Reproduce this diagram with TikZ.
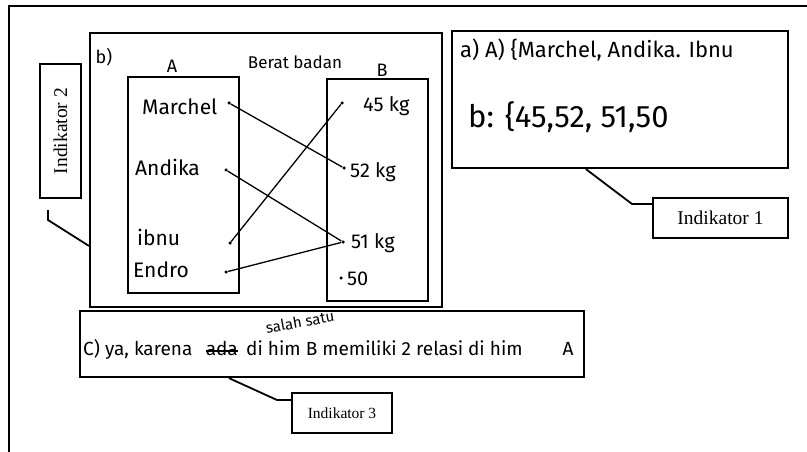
\documentclass[tikz,border=0pt]{standalone}
\usepackage{fontspec}
\setmainfont{Liberation Serif}
\newfontfamily\hand{Fira Sans}
\usetikzlibrary{positioning,calc}

\begin{document}
\begin{tikzpicture}[
    x=1pt, y=-1pt,
    answer/.style  = {draw, line width=2.2pt, inner sep=0pt},
    tagbox/.style  = {draw, line width=1.8pt, inner sep=0pt, font=\fontsize{19.5}{21}\selectfont},
    lead/.style    = {draw, line width=1.8pt},
    hw/.style      = {font=\hand\fontsize{#1}{#1}\selectfont, inner sep=0pt},
    setbox/.style  = {draw, line width=1.3pt, inner sep=0pt},
    dot/.style     = {circle, fill, inner sep=0pt, minimum size=3.5pt},
    every edge/.style = {draw, line width=1.3pt}
]
\useasboundingbox (0,0) rectangle (807,452);

% =========================================================
% OUTER FRAME (cut off at right and bottom)
% =========================================================
\draw[line width=2pt] (9,452) -- (9,6) -- (807,6);

% =========================================================
% ANSWER BOXES
% =========================================================
\node[answer, minimum width=352, minimum height=274] (boxB) at (266,170) {};
\node[answer, minimum width=336, minimum height=137] (boxA) at (620,99.5) {};
\node[answer, minimum width=504, minimum height=66]  (boxC) at (332,344) {};

% =========================================================
% INDIKATOR TAGS
% =========================================================
\node[tagbox, minimum width=135, minimum height=40] (ind1) at (720.5,218) {Indikator 1};
\node[tagbox, rotate=90, minimum width=134, minimum height=41] (ind2) at (60.5,131) {Indikator 2};
\node[tagbox, minimum width=100, minimum height=40,
      font=\fontsize{15.5}{17}\selectfont] (ind3) at (342,413) {Indikator 3};

% leaders
\coordinate (k1a) at ($(boxA.south west)+(135,0)$);
\coordinate (k1b) at (632,204);
\draw[lead] (k1a) -- (k1b) -- (k1b -| ind1.west);

\coordinate (k2a) at (48,210);
\coordinate (k2b) at (48,220);
\draw[lead] (k2a) -- (k2b) -- ($(boxB.north west)+(0,214)$);

\coordinate (k3a) at ($(boxC.south west)+(150,0)$);
\coordinate (k3b) at (277,400);
\draw[lead] (k3a) -- (k3b) -- (k3b -| ind3.west);

% =========================================================
% PART b) : ARROW DIAGRAM
% =========================================================
\node[hw=18] (lblb)  at (104,57) {b)};
\node[hw=18] (lblA)  at (172,66) {A};
\node[hw=17] (title) at (295,62) {Berat badan};
\node[hw=18] (lblB)  at (382,70) {B};

\node[setbox, minimum width=111, minimum height=216] (setA) at (183.5,185) {};
\node[setbox, minimum width=101, minimum height=222] (setB) at (377.5,190) {};

\node[hw=21, anchor=west] (marchel) at (142,107) {Marchel};
\node[hw=21, anchor=west] (andika)  at (135,167) {Andika};
\node[hw=21, anchor=west] (ibnu)    at (137,237) {ibnu};
\node[hw=21, anchor=west] (endro)   at (133,270) {Endro};

\node[hw=20, anchor=west] (v45) at (363,106) {45 kg};
\node[hw=20, anchor=west] (v52) at (350,172) {52 kg};
\node[hw=20, anchor=west] (v51) at (351,243) {51 kg};
\node[hw=20, anchor=west] (v50) at (347,279) {50};

\node[dot] (dMarchel) at (229,103) {};
\node[dot] (dAndika)  at (226,170) {};
\node[dot] (dIbnu)    at (230,243) {};
\node[dot] (dEndro)   at (226,272) {};
\node[dot] (d45)      at (342,103) {};
\node[dot] (d52)      at (344,168) {};
\node[dot] (d51)      at (343,242) {};
\node[dot] (d50)      at (341,278) {};

\path
  (dMarchel) edge (d52)
  (dAndika)  edge (d51)
  (dIbnu)    edge (d45)
  (dEndro)   edge (d51);

% =========================================================
% PART a) : SETS
% =========================================================
\node[hw=22, anchor=west] (setsA) at (460,50)  {a) A) \{Marchel, Andika. Ibnu};
\node[hw=31, anchor=west] (setsB) at (468,117) {b: \{45,52, 51,50};

% =========================================================
% PART c) : ANSWER
% =========================================================
\node[hw=19, anchor=base west] (ansC1) at (83,355) {C) ya, karena};
\node[hw=19, right=13pt of ansC1.base east, anchor=base west] (struck) {ada};
\node[hw=19, right=8pt of struck.base east, anchor=base west] (ansC2)
  {di him B memiliki 2 relasi di him};
\draw[line width=1.6pt] ([yshift=-3pt]struck.west) -- ([yshift=-3pt]struck.east);
\node[hw=19, anchor=base] (ansA) at (568,355) {A};
\node[hw=15, rotate=10] (insert) at (300,322) {salah satu};

\end{tikzpicture}
\end{document}
